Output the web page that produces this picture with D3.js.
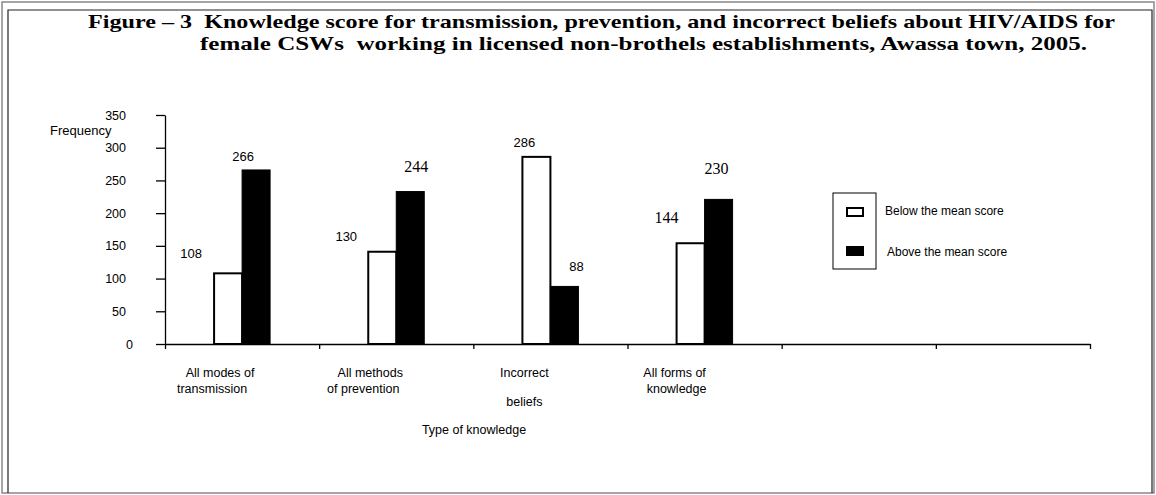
<!DOCTYPE HTML>
<html lang="en">
  <head>
    <meta http-equiv="content-type" content="text/html; charset=utf-8"/>
    <title>Figure 3 - Knowledge score about HIV/AIDS, Awassa town, 2005</title>

    <!-- ============================================= -->
    <!-- CSS                                           -->
    <!-- ============================================= -->
    <style>
      body { margin: 0; background: #fff; }
      svg { display: block; }
      .sans { font-family: "Liberation Sans", Arial, sans-serif; fill: #000; }
      .serif { font-family: "Liberation Serif", "Times New Roman", serif; fill: #000; }
      .title { font-family: "Liberation Serif", "Times New Roman", serif; font-weight: bold; font-size: 19.5px; white-space: pre; }
      .axis path, .axis line { stroke: #000; stroke-width: 1.3px; }
      .axis text { font-family: "Liberation Sans", Arial, sans-serif; font-size: 12.5px; fill: #000; }
    </style>
  </head>

  <body>
    <div id="chart"></div>

    <script type="text/javascript" src="https://d3js.org/d3.v7.min.js"></script>
    <script>
      // ============================================= //
      // Data                    //
      // ============================================= //
      var categories = ["All modes of transmission", "All methods of prevention",
                        "Incorrect beliefs", "All forms of knowledge", "", ""];
      var categoryLines = [["All modes of", "transmission"], ["All methods", "of prevention"],
                           ["Incorrect", "beliefs"], ["All forms of", "knowledge"], [], []];
      var series = ["Below the mean score", "Above the mean score"];
      var belowMean = [108, 141, 286, 154];   // bar heights as drawn
      var aboveMean = [266, 233, 88, 221];
      var belowLabels = ["108", "130", "286", "144"];   // typed labels on the figure
      var aboveLabels = ["266", "244", "88", "230"];
      var yTicks = [0, 50, 100, 150, 200, 250, 300, 350];

      var titleLines = [
        "Figure \u2013 3  Knowledge score for transmission, prevention, and incorrect beliefs about HIV/AIDS for",
        "female CSWs  working in licensed non-brothels establishments, Awassa town, 2005."
      ];

      // ============================================= //
      // Layout                                        //
      // ============================================= //
      var W = 1156, H = 495;
      var plot = { left: 165, right: 1090, top: 115, bottom: 344 };
      var barW = 28;

      // label nudges relative to bar centre / bar top (the labels were hand placed)
      var belowLabelPos = [{dx: -37, dy: -20, serif: false}, {dx: -36, dy: -15, serif: false},
                           {dx: -12, dy: -14, serif: false}, {dx: -24, dy: -26, serif: true}];
      var aboveLabelPos = [{dx: -13, dy: -14, serif: false}, {dx: 6, dy: -25, serif: true},
                           {dx: 12, dy: -20, serif: false}, {dx: -2, dy: -31, serif: true}];
      var catLabelPos = [{dx: [-22, -30], y: [377, 393]}, {dx: [-26, -33], y: [377, 393]},
                         {dx: [-26, -26], y: [377, 406]}, {dx: [-30, -28], y: [377, 393]}];

      var svg = d3.select("#chart")
        .append("svg")
          .attr("width", W)
          .attr("height", H);

      // page frame
      svg.append("rect")
        .attr("x", 2).attr("y", 2)
        .attr("width", 1152).attr("height", 491)
        .attr("fill", "none")
        .attr("stroke", "#888")
        .attr("stroke-width", 1.5);

      svg.append("path")
        .attr("d", "M8,493V10H1152V493")
        .attr("fill", "none")
        .attr("stroke", "#222")
        .attr("stroke-width", 1.2);

      // title
      svg.append("text")
        .attr("class", "title")
        .attr("x", 88).attr("y", 28)
        .attr("textLength", 1027)
        .attr("lengthAdjust", "spacingAndGlyphs")
        .text(titleLines[0]);

      svg.append("text")
        .attr("class", "title")
        .attr("x", 200).attr("y", 50)
        .attr("textLength", 887)
        .attr("lengthAdjust", "spacingAndGlyphs")
        .text(titleLines[1]);

      // ============================================= //
      // Scales and axes                               //
      // ============================================= //
      var x = d3.scaleBand()
        .domain(d3.range(categories.length))
        .range([plot.left, plot.right]);

      var sub = d3.scaleBand()
        .domain(series)
        .range([-barW, barW]);

      var y = d3.scaleLinear()
        .domain([0, 350])
        .range([plot.bottom, plot.top]);

      var xEdges = d3.scaleLinear()
        .domain([0, categories.length])
        .range([plot.left, plot.right]);

      var yAxisG = svg.append("g")
        .attr("class", "axis")
        .attr("transform", "translate(" + plot.left + ",0)")
        .call(d3.axisLeft(y)
          .tickValues(yTicks)
          .tickSize(9)
          .tickSizeOuter(0)
          .tickPadding(30));

      // the zero label sits a little further right on the original
      yAxisG.selectAll(".tick text")
        .filter(function(d) { return d === 0; })
        .attr("dx", 7);

      svg.append("g")
        .attr("class", "axis")
        .attr("transform", "translate(0," + plot.bottom + ")")
        .call(d3.axisBottom(xEdges)
          .ticks(categories.length)
          .tickSize(5)
          .tickSizeOuter(0)
          .tickFormat(""));

      svg.append("text")
        .attr("class", "sans")
        .attr("x", 50).attr("y", 135)
        .style("font-size", "13px")
        .text("Frequency");

      // ============================================= //
      // Bars                                          //
      // ============================================= //
      var rows = belowMean.map(function(d, i) {
        return { i: i, below: d, above: aboveMean[i] };
      });

      var groups = svg.selectAll(".group")
        .data(rows)
        .enter().append("g")
          .attr("class", "group")
          .attr("transform", function(d) { return "translate(" + (x(d.i) + x.bandwidth() / 2) + ",0)"; });

      groups.append("rect")
        .attr("x", sub(series[0]))
        .attr("y", function(d) { return y(d.below); })
        .attr("width", barW)
        .attr("height", function(d) { return y(0) - y(d.below); })
        .attr("fill", "#fff")
        .attr("stroke", "#000")
        .attr("stroke-width", 2);

      groups.append("rect")
        .attr("x", sub(series[1]))
        .attr("y", function(d) { return y(d.above); })
        .attr("width", barW)
        .attr("height", function(d) { return y(0) - y(d.above); })
        .attr("fill", "#000")
        .attr("stroke", "#000")
        .attr("stroke-width", 1);

      // value labels
      groups.append("text")
        .attr("class", function(d) { return belowLabelPos[d.i].serif ? "serif" : "sans"; })
        .attr("x", function(d) { return sub(series[0]) + barW / 2 + belowLabelPos[d.i].dx; })
        .attr("y", function(d) { return y(d.below) + belowLabelPos[d.i].dy; })
        .attr("dy", ".35em")
        .attr("text-anchor", "middle")
        .style("font-size", function(d) { return belowLabelPos[d.i].serif ? "16px" : "13px"; })
        .text(function(d) { return belowLabels[d.i]; });

      groups.append("text")
        .attr("class", function(d) { return aboveLabelPos[d.i].serif ? "serif" : "sans"; })
        .attr("x", function(d) { return sub(series[1]) + barW / 2 + aboveLabelPos[d.i].dx; })
        .attr("y", function(d) { return y(d.above) + aboveLabelPos[d.i].dy; })
        .attr("dy", ".35em")
        .attr("text-anchor", "middle")
        .style("font-size", function(d) { return aboveLabelPos[d.i].serif ? "16px" : "13px"; })
        .text(function(d) { return aboveLabels[d.i]; });

      // category labels (two lines each)
      categoryLines.forEach(function(lines, i) {
        lines.forEach(function(line, j) {
          svg.append("text")
            .attr("class", "sans")
            .attr("x", x(i) + x.bandwidth() / 2 + catLabelPos[i].dx[j])
            .attr("y", catLabelPos[i].y[j])
            .attr("text-anchor", "middle")
            .style("font-size", "12.5px")
            .text(line);
        });
      });

      svg.append("text")
        .attr("class", "sans")
        .attr("x", 474).attr("y", 434)
        .attr("text-anchor", "middle")
        .style("font-size", "12.5px")
        .text("Type of knowledge");

      // ============================================= //
      // Legend                                        //
      // ============================================= //
      var legend = svg.append("g")
        .attr("transform", "translate(833,193)");

      legend.append("rect")
        .attr("width", 43).attr("height", 76)
        .attr("fill", "#fff")
        .attr("stroke", "#000")
        .attr("stroke-width", 1);

      legend.selectAll(".swatch")
        .data(series)
        .enter().append("rect")
          .attr("class", "swatch")
          .attr("x", 14)
          .attr("y", function(d, i) { return 15 + i * 39; })
          .attr("width", 16).attr("height", 8)
          .attr("fill", function(d, i) { return i === 0 ? "#fff" : "#000"; })
          .attr("stroke", "#000")
          .attr("stroke-width", 2);

      legend.selectAll(".legend-label")
        .data(series)
        .enter().append("text")
          .attr("class", "sans legend-label")
          .attr("x", function(d, i) { return 52 + i * 2; })
          .attr("y", function(d, i) { return 18 + i * 41; })
          .attr("dy", ".35em")
          .style("font-size", "12px")
          .text(function(d) { return d; });
    </script>
  </body>
</html>
